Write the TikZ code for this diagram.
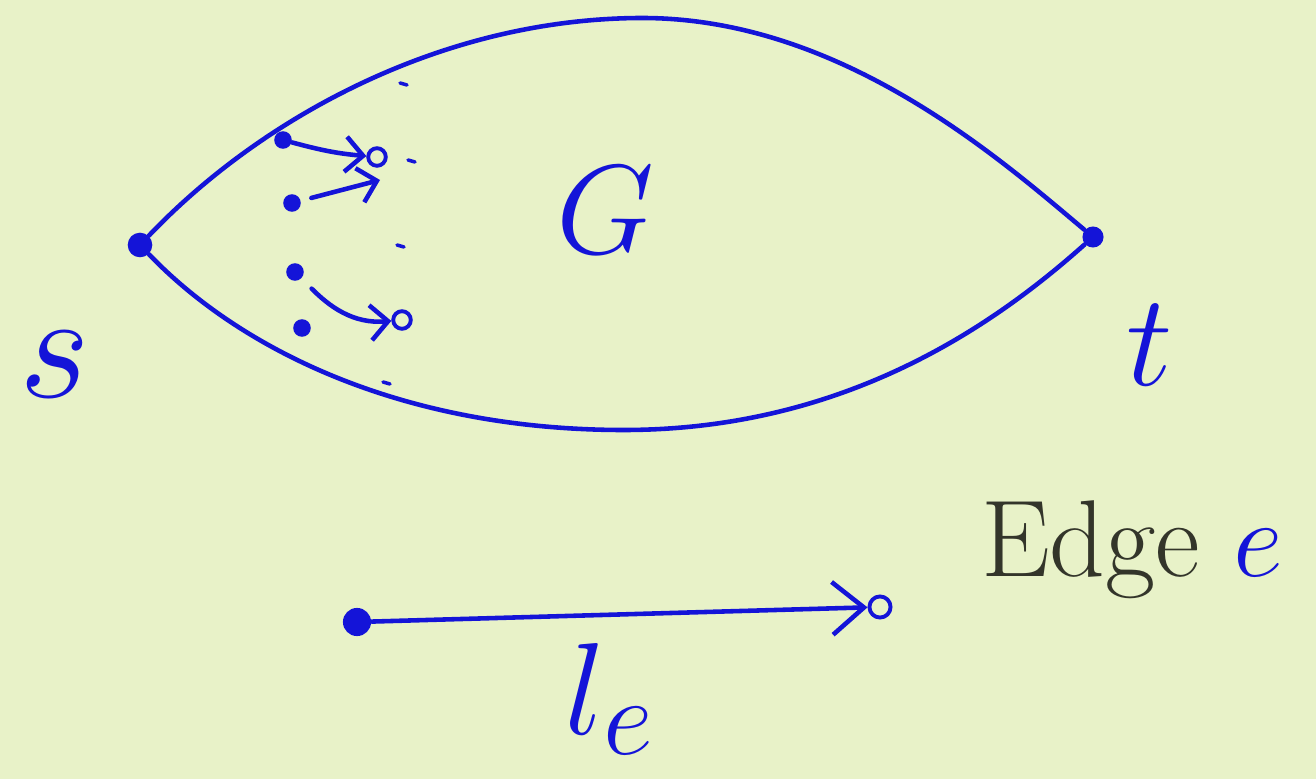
\documentclass[tikz,border=0pt]{standalone}
\usepackage{amsmath,amssymb}
\usepackage{xcolor}
\usepackage{tikz}
\usetikzlibrary{arrows.meta}
\definecolor{bgpaper}{HTML}{E8F2C8}
\definecolor{penblue}{HTML}{1414D8}
\definecolor{pengray}{HTML}{33352A}
\tikzset{
  pen/.style={penblue,line width=1.3pt,line cap=round},
  vtx/.style={circle,fill=penblue,inner sep=0pt,minimum size=7pt},
  loopend/.style={circle,draw=penblue,line width=1.1pt,inner sep=0pt,minimum size=5pt},
  handlabel/.style={penblue,inner sep=0pt,font=\Huge},
}

\begin{document}
\begin{tikzpicture}[>={Straight Barb[length=5pt,width=10pt]},x=1cm,y=1cm]
  \fill[bgpaper] (0,0) rectangle (13.16,7.79);
  \useasboundingbox (0,0) rectangle (13.16,7.79);
  % source and sink of G
  \node[vtx] (s) at (1.40,5.34) {};
  \node[vtx,minimum size=6pt] (t) at (10.93,5.42) {};
  \draw[pen] (s) .. controls (2.6,6.6) and (4.4,7.6) .. (6.4,7.61)
    .. controls (8.4,7.62) and (10.0,6.2) .. (t);
  \draw[pen] (s) .. controls (2.4,4.3) and (4.0,3.5) .. (6.2,3.49)
    .. controls (8.4,3.48) and (9.9,4.5) .. (t);
  \node[handlabel,scale=1.75] (slab) at (0.55,4.14) {$s$};
  \node[handlabel,scale=1.5] (tlab) at (11.50,4.34) {$t$};
  \node[handlabel,scale=1.45] (Glab) at (6.05,5.69) {$G$};
  % edges leaving s
  \node[vtx,minimum size=5pt] (a1) at (2.83,6.39) {};
  \node[vtx,minimum size=5pt] (a2) at (2.92,5.76) {};
  \node[vtx,minimum size=5pt] (a3) at (2.95,5.07) {};
  \node[vtx,minimum size=5pt] (a4) at (3.02,4.51) {};
  \node[loopend] (b1) at (3.77,6.22) {};
  \coordinate (b2) at (3.80,5.99);
  \node[loopend] (b3) at (4.02,4.59) {};
  \draw[pen,->] (a1) to[out=-15,in=175] (b1);
  \draw[pen,->,shorten <=3pt] (a2) -- (b2);
  \draw[pen,->,shorten <=4pt] (a3) to[out=-45,in=185] (b3);
  \foreach \x/\y in {4.00/6.96,4.08/6.19,3.97/5.34,3.83/3.97}
    \draw[pen,line width=1pt] (\x,\y) -- ++(0.07,-0.02);
  % a single edge
  \node[vtx,minimum size=8pt] (u) at (3.57,1.57) {};
  \node[loopend,minimum size=6pt] (v) at (8.80,1.72) {};
  \draw[pen,-{Straight Barb[length=9pt,width=15pt]}] (u) -- (v);
  \node[pengray,inner sep=0pt,font=\Huge,scale=1.25] (edge) at (11.32,2.29)
    {Edge \textcolor{penblue}{$e$}};
  \node[handlabel,scale=1.5] (le) at (6.10,0.80) {$l_e$};
\end{tikzpicture}
\end{document}
